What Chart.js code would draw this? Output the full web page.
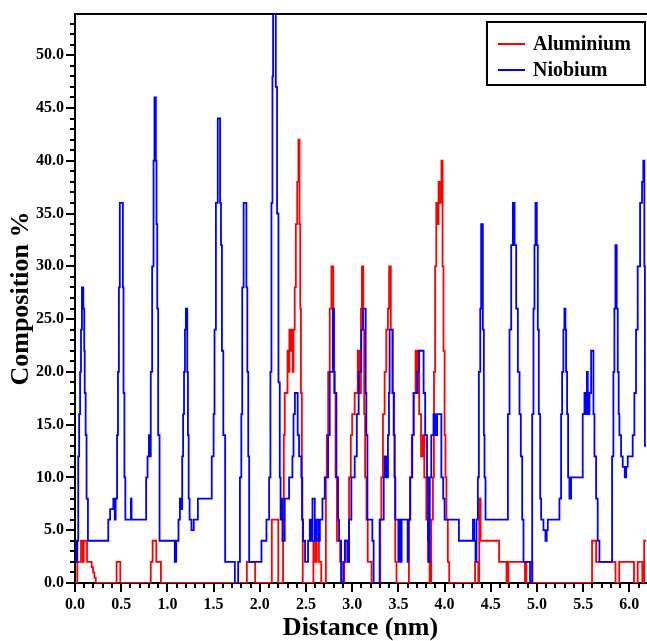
<!DOCTYPE html>
<html>
<head>
<meta charset="utf-8">
<title>Composition profile</title>
<script src="https://cdn.jsdelivr.net/npm/chart.js@4.4.1/dist/chart.umd.min.js"></script>
<style>
  html, body { margin: 0; padding: 0; background: #fff; }
  #wrap { width: 647px; height: 641px; }
</style>
</head>
<body>
<div id="wrap"><canvas id="profile" width="647" height="641"></canvas></div>
<script>
// Each step starts at distance[i] (nm) and keeps composition[i] (%) until the next one.
var alDistance = [
  0, 0.025, 0.065, 0.085, 0.095, 0.13, 0.18, 0.195, 0.21, 0.225,
  0.45, 0.49, 0.82, 0.84, 0.88, 0.93, 1.86, 1.95, 2.13, 2.20,
  2.252, 2.26, 2.27, 2.30, 2.31, 2.32, 2.33, 2.34, 2.355, 2.365,
  2.378, 2.39, 2.405, 2.418, 2.43, 2.438, 2.445, 2.455, 2.465,
  2.58, 2.60, 2.615, 2.64, 2.665, 2.715, 2.725, 2.74, 2.757, 2.775,
  2.795, 2.805, 2.82, 2.835, 2.87, 2.885, 2.915, 2.93, 2.955, 2.966,
  2.985, 3.00, 3.027, 3.06, 3.075, 3.095, 3.105, 3.12, 3.13, 3.14,
  3.155, 3.168, 3.21, 3.304, 3.315, 3.333, 3.351, 3.369, 3.387, 3.40,
  3.418, 3.436, 3.448, 3.459, 3.466, 3.48, 3.614, 3.625, 3.645, 3.665,
  3.686, 3.70, 3.712, 3.725, 3.745, 3.765, 3.78, 3.802, 3.82, 3.838,
  3.856, 3.874, 3.885, 3.898, 3.91, 3.925, 3.935, 3.95, 3.966, 3.978,
  3.988, 4.0, 4.01, 4.02, 4.035, 4.05, 4.33, 4.365, 4.375, 4.39,
  4.59, 4.67, 4.69, 4.87, 4.885, 4.95, 5.596, 5.64, 5.85, 5.89,
  6.05, 6.09, 6.14, 6.16, 6.18
];
var alComposition = [
  0, 2, 4, 2, 4, 2, 1.5, 1, 0.5, 0,
  2, 0, 2, 4, 2, 0, 2, 0, 6, 0,
  6, 14, 18, 22, 20, 24, 22, 24, 20, 24,
  28, 34, 38, 42, 34, 26, 18, 6, 0,
  4, 2, 4, 2, 0, 10, 14, 20, 26, 30,
  26, 18, 10, 4, 2, 0, 2, 4, 2, 10,
  14, 16, 18, 22, 18, 26, 30, 24, 16, 10,
  6, 2, 0, 6, 10, 16, 20, 24, 26, 30,
  24, 18, 14, 10, 2, 0, 6, 10, 14, 18,
  22, 18, 22, 16, 12, 14, 10, 6, 2, 0,
  6, 10, 20, 30, 36, 34, 38, 36, 40, 30,
  22, 14, 10, 6, 2, 0, 2, 0, 8, 4,
  2, 0, 2, 0, 2, 0, 4, 2, 0, 2,
  0, 2, 0, 4, 4
];

var nbDistance = [
  0, 0.015, 0.025, 0.035, 0.045, 0.055, 0.065, 0.075, 0.09, 0.10,
  0.105, 0.115, 0.125, 0.14, 0.36, 0.38, 0.415, 0.43, 0.44, 0.455,
  0.465, 0.475, 0.485, 0.518, 0.525, 0.535, 0.545, 0.605, 0.612, 0.77,
  0.785, 0.80, 0.81, 0.82, 0.835, 0.85, 0.86, 0.875, 0.882, 0.89,
  0.90, 0.915, 1.08, 1.095, 1.12, 1.135, 1.145, 1.16, 1.17, 1.18,
  1.19, 1.20, 1.215, 1.222, 1.23, 1.24, 1.26, 1.285, 1.33, 1.48,
  1.50, 1.51, 1.525, 1.545, 1.57, 1.58, 1.59, 1.605, 1.625, 1.73,
  1.766, 1.785, 1.80, 1.81, 1.825, 1.855, 1.865, 1.875, 1.885, 2.018,
  2.072, 2.101, 2.115, 2.126, 2.137, 2.144, 2.173, 2.187, 2.202, 2.216,
  2.225, 2.235, 2.245, 2.27, 2.317, 2.353, 2.365, 2.38, 2.41, 2.425,
  2.45, 2.46, 2.468, 2.49, 2.522, 2.541, 2.555, 2.57, 2.595, 2.61,
  2.631, 2.65, 2.678, 2.703, 2.739, 2.757, 2.79, 2.80, 2.811, 2.829,
  2.847, 2.858, 2.88, 2.905, 2.92, 2.95, 2.966, 2.991, 3.027, 3.05,
  3.07, 3.099, 3.115, 3.146, 3.153, 3.165, 3.218, 3.232, 3.297, 3.341,
  3.351, 3.369, 3.387, 3.398, 3.405, 3.438, 3.452, 3.459, 3.466, 3.50,
  3.51, 3.525, 3.535, 3.60, 3.61, 3.629, 3.65, 3.665, 3.705, 3.723,
  3.773, 3.79, 3.81, 3.82, 3.831, 3.84, 3.856, 3.88, 3.90, 3.92,
  3.965, 3.985, 4.0, 4.155, 4.307, 4.32, 4.335, 4.345, 4.36, 4.371,
  4.386, 4.396, 4.414, 4.425, 4.432, 4.443, 4.685, 4.703, 4.721, 4.739,
  4.757, 4.775, 4.793, 4.811, 4.825, 4.84, 4.854, 4.925, 4.948, 4.962,
  4.973, 4.984, 4.998, 5.009, 5.020, 5.035, 5.045, 5.07, 5.092, 5.105,
  5.117, 5.243, 5.261, 5.272, 5.286, 5.297, 5.308, 5.315, 5.326, 5.337,
  5.351, 5.369, 5.495, 5.514, 5.525, 5.54, 5.55, 5.568, 5.586, 5.611,
  5.622, 5.64, 5.657, 5.676, 5.813, 5.827, 5.838, 5.849, 5.863, 5.874,
  5.884, 5.892, 5.91, 5.928, 5.95, 5.965, 5.982, 6.036, 6.054, 6.072,
  6.09, 6.116, 6.137, 6.151, 6.162, 6.168, 6.18
];
var nbComposition = [
  4, 2, 4, 12, 16, 20, 24, 28, 26, 22,
  18, 14, 8, 4, 6, 7, 8, 6, 8, 14,
  20, 28, 36, 28, 18, 10, 6, 8, 6, 10,
  12, 14, 12, 20, 30, 40, 46, 40, 34, 26,
  14, 4, 2, 4, 6, 8, 7, 12, 16, 20,
  24, 26, 20, 14, 8, 6, 5, 6, 8, 12,
  16, 24, 36, 44, 36, 32, 22, 14, 2, 0,
  2, 10, 16, 28, 36, 28, 20, 12, 2, 4,
  6, 10, 20, 36, 48, 54, 47, 35, 19, 10,
  6, 8, 4, 8, 10, 12, 16, 18, 14, 12,
  10, 6, 4, 2, 4, 6, 4, 8, 4, 6,
  4, 6, 8, 10, 14, 20, 26, 20, 18, 10,
  6, 4, 0, 2, 4, 2, 6, 10, 12, 16,
  20, 24, 26, 18, 14, 6, 4, 0, 6, 10,
  12, 10, 14, 18, 24, 18, 14, 10, 6, 2,
  6, 2, 6, 2, 6, 10, 14, 18, 20, 22,
  18, 14, 10, 4, 2, 10, 14, 16, 14, 16,
  10, 8, 6, 4, 6, 4, 2, 6, 10, 20,
  26, 34, 24, 14, 10, 6, 16, 24, 32, 36,
  32, 26, 20, 16, 12, 6, 2, 0, 16, 26,
  32, 36, 32, 24, 16, 8, 6, 5, 4, 5,
  6, 8, 16, 20, 24, 26, 24, 20, 16, 10,
  8, 10, 16, 18, 16, 20, 16, 18, 22, 16,
  12, 8, 4, 2, 12, 20, 26, 32, 26, 20,
  16, 14, 12, 11, 10, 11, 12, 14, 18, 24,
  30, 36, 38, 40, 30, 13, 13
];

var seriesNames = ['Aluminium', 'Niobium'];
var seriesColors = ['#ff0000', '#0000ff'];

var serif = '"Liberation Serif", "Times New Roman", serif';

var toPoints = function (xs, ys) {
  let pts = [];
  for (let i = 0; i < xs.length; i++) {
    pts.push({ x: xs[i], y: ys[i] });
  }
  return pts;
};

// ticks drawn outside the axes (major + minor), the top frame line and the boxed legend
var frameAndLegend = {
  id: 'frameAndLegend',
  afterDraw: function (chart) {
    let ctx = chart.ctx;
    let area = chart.chartArea;
    let xs = chart.scales.x;
    let ys = chart.scales.y;

    ctx.save();
    ctx.strokeStyle = '#000';
    ctx.lineWidth = 2;
    ctx.beginPath();
    ctx.moveTo(area.left, area.top);
    ctx.lineTo(area.right + 1, area.top);
    for (let v = 0; v <= 53; v++) {
      let y = Math.round(ys.getPixelForValue(v));
      let len = v % 5 === 0 ? 9 : 5;
      ctx.moveTo(area.left - len, y);
      ctx.lineTo(area.left, y);
    }
    for (let i = 0; i <= 61; i++) {
      let x = Math.round(xs.getPixelForValue(i / 10));
      let len = i % 5 === 0 ? 9 : 5;
      ctx.moveTo(x, area.bottom);
      ctx.lineTo(x, area.bottom + len);
    }
    ctx.stroke();

    // legend box in the upper right corner
    let bx = 487, by = 22, bw = 158, bh = 63;
    ctx.fillStyle = '#fff';
    ctx.fillRect(bx, by, bw, bh);
    ctx.lineWidth = 2;
    ctx.strokeRect(bx, by, bw, bh);
    ctx.font = 'bold 20px ' + serif;
    ctx.textBaseline = 'middle';
    ctx.textAlign = 'left';
    chart.data.datasets.forEach((ds, i) => {
      let y = by + 22 + i * 26;
      ctx.strokeStyle = ds.borderColor;
      ctx.lineWidth = 2;
      ctx.beginPath();
      ctx.moveTo(bx + 11, y);
      ctx.lineTo(bx + 38, y);
      ctx.stroke();
      ctx.fillStyle = '#000';
      ctx.fillText(ds.label, bx + 46, y + 1);
    });
    ctx.restore();
  }
};

var config = {
  type: 'line',
  data: {
    datasets: [
      {
        label: seriesNames[0],
        data: toPoints(alDistance, alComposition),
        borderColor: seriesColors[0],
        borderWidth: 1.8,
        stepped: true,
        pointRadius: 0,
        order: 1
      },
      {
        label: seriesNames[1],
        data: toPoints(nbDistance, nbComposition),
        borderColor: seriesColors[1],
        borderWidth: 1.8,
        stepped: true,
        pointRadius: 0,
        order: 0
      }
    ]
  },
  options: {
    responsive: false,
    animation: false,
    layout: { padding: { top: 14, right: 1, bottom: 0, left: 0 } },
    plugins: {
      legend: { display: false },
      tooltip: { enabled: false }
    },
    scales: {
      x: {
        type: 'linear',
        min: 0,
        max: 6.18,
        grid: { display: false },
        border: { display: true, color: '#000', width: 2 },
        ticks: {
          stepSize: 0.5,
          includeBounds: false,
          autoSkip: false,
          maxRotation: 0,
          padding: 4,
          color: '#000',
          font: { family: serif, size: 16, weight: 'bold' },
          callback: (v) => v.toFixed(1)
        },
        title: {
          display: true,
          text: 'Distance (nm)',
          color: '#000',
          font: { family: serif, size: 26, weight: 'bold' },
          padding: { top: 0, bottom: -3 }
        },
        afterFit: (scale) => { scale.height = 58; }
      },
      y: {
        min: 0,
        max: 53.9,
        grid: { display: false },
        border: { display: true, color: '#000', width: 2 },
        ticks: {
          stepSize: 5,
          includeBounds: false,
          padding: 3,
          color: '#000',
          font: { family: serif, size: 16, weight: 'bold' },
          callback: (v) => v.toFixed(1)
        },
        title: {
          display: true,
          text: 'Composition %',
          color: '#000',
          font: { family: serif, size: 26, weight: 'bold' },
          padding: { top: 6, bottom: 0 }
        },
        afterFit: (scale) => { scale.width = 75; }
      }
    }
  },
  plugins: [frameAndLegend]
};

var chart = new Chart(document.getElementById('profile').getContext('2d'), config);
</script>
</body>
</html>
